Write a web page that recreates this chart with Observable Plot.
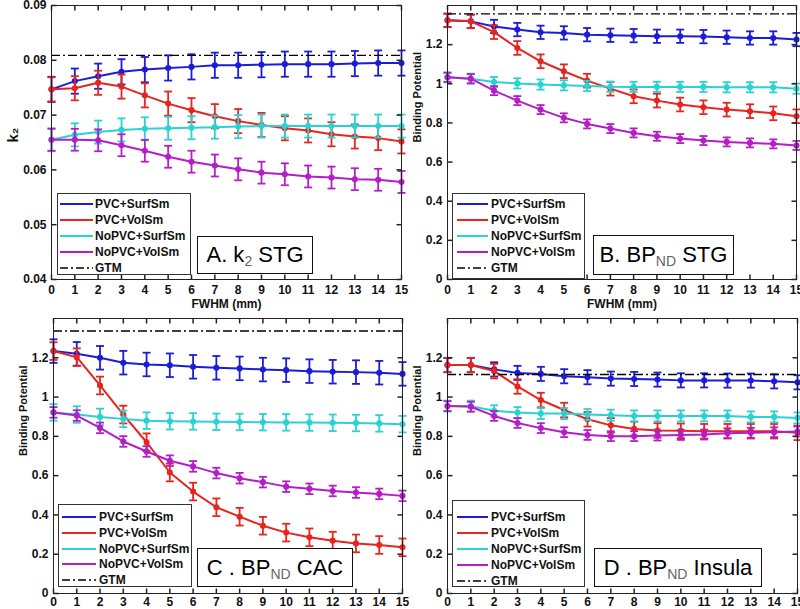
<!DOCTYPE html>
<html><head><meta charset="utf-8">
<script src="https://cdn.jsdelivr.net/npm/d3@7"></script>
<script src="https://cdn.jsdelivr.net/npm/@observablehq/plot@0.6"></script>
<style>
body{margin:0;background:#fff;}
#wrap{position:relative;width:800px;height:609px;overflow:hidden;font-family:Arial,"Liberation Sans",sans-serif;background:#fff;}
.panel{position:absolute;}
.legend{position:absolute;border:1px solid #333;background:#fff;box-sizing:border-box;font-weight:bold;font-size:12px;color:#111;}
.legend .row{position:absolute;left:0;height:16px;display:flex;align-items:center;white-space:nowrap;}
.legend svg{display:block;}
.label{position:absolute;border:1px solid #111;background:#fff;box-sizing:border-box;font-size:22px;display:flex;align-items:center;justify-content:center;white-space:nowrap;color:#000;}
.label .sub{font-size:14px;position:relative;top:6px;color:#666;}
</style></head><body><div id="wrap"></div>
<script>
// ---- data ----
const fwhm = [0,1,2,3,4,5,6,7,8,9,10,11,12,13,14,15];
const seriesNames = ["PVC+SurfSm","PVC+VolSm","NoPVC+SurfSm","NoPVC+VolSm"];
const seriesColors = ["#1c1cd8","#e8241e","#2ad2d2","#b41ec8"];

// A. k2 STG
const aPvcSurf = [0.0747,0.0762,0.0771,0.0779,0.0783,0.0786,0.0788,0.0791,0.0791,0.0792,0.0793,0.0793,0.0793,0.0794,0.0795,0.0795];
const aPvcVol  = [0.0747,0.0749,0.0759,0.0752,0.0736,0.0721,0.0709,0.0698,0.0689,0.0682,0.0676,0.0672,0.0665,0.0661,0.0658,0.0652];
const aNoSurf  = [0.0655,0.0664,0.0669,0.0673,0.0675,0.0676,0.0677,0.0678,0.0679,0.0680,0.0680,0.0680,0.0680,0.0680,0.0680,0.0680];
const aNoVol   = [0.0655,0.0655,0.0654,0.0645,0.0635,0.0624,0.0615,0.0608,0.0601,0.0595,0.0592,0.0588,0.0586,0.0583,0.0582,0.0578];
const aErr = [0.0023,0.0022,0.0021,0.0020];
const aGtm = 0.0809;
const aTicks = [0.04,0.05,0.06,0.07,0.08,0.09];

// B. BPND STG
const bPvcSurf = [1.324,1.319,1.293,1.277,1.263,1.260,1.251,1.248,1.246,1.243,1.243,1.241,1.238,1.234,1.234,1.226];
const bPvcVol  = [1.324,1.319,1.264,1.183,1.115,1.064,1.016,0.975,0.936,0.914,0.894,0.880,0.868,0.860,0.849,0.834];
const bNoSurf  = [1.033,1.026,1.009,1.002,0.996,0.992,0.989,0.985,0.984,0.984,0.984,0.984,0.982,0.982,0.982,0.975];
const bNoVol   = [1.033,1.026,0.965,0.914,0.868,0.826,0.795,0.771,0.749,0.732,0.720,0.710,0.703,0.698,0.693,0.685];
const bErr = [0.034,0.035,0.026,0.023];
const bGtm = 1.357;

// C. BPND CAC
const cPvcSurf = [1.234,1.220,1.200,1.175,1.166,1.162,1.154,1.149,1.146,1.140,1.137,1.132,1.129,1.127,1.124,1.118];
const cPvcVol  = [1.234,1.203,1.059,0.911,0.770,0.616,0.519,0.439,0.391,0.345,0.310,0.286,0.269,0.255,0.247,0.235];
const cNoSurf  = [0.922,0.911,0.899,0.889,0.880,0.877,0.876,0.874,0.873,0.872,0.871,0.870,0.869,0.868,0.866,0.862];
const cNoVol   = [0.922,0.906,0.843,0.774,0.723,0.676,0.647,0.613,0.587,0.567,0.544,0.533,0.522,0.514,0.507,0.497];
const cErr = [0.060,0.045,0.042,0.027];
const cGtm = 1.336;

// D. BPND Insula
const dPvcSurf = [1.163,1.163,1.141,1.123,1.118,1.106,1.101,1.094,1.092,1.089,1.085,1.085,1.084,1.084,1.080,1.075];
const dPvcVol  = [1.163,1.163,1.132,1.054,0.985,0.934,0.887,0.856,0.838,0.830,0.828,0.826,0.826,0.826,0.826,0.818];
const dNoSurf  = [0.954,0.954,0.930,0.921,0.916,0.916,0.911,0.908,0.904,0.904,0.904,0.904,0.904,0.899,0.899,0.894];
const dNoVol   = [0.954,0.951,0.904,0.868,0.842,0.821,0.807,0.801,0.801,0.804,0.807,0.809,0.816,0.818,0.821,0.825];
const dErr = [0.036,0.037,0.028,0.025];
const dGtm = 1.115;

const bpTicks = [0,0.2,0.4,0.6,0.8,1,1.2];

// ---- drawing ----
const wrap = document.getElementById("wrap");
const capSym = {draw(ctx){ctx.moveTo(-4,0);ctx.lineTo(4,0);}};
const tickUp = {draw(ctx){ctx.moveTo(0,0);ctx.lineTo(0,-5);}};
const tickDown = {draw(ctx){ctx.moveTo(0,0);ctx.lineTo(0,5);}};
const tickRight = {draw(ctx){ctx.moveTo(0,0);ctx.lineTo(5,0);}};
const tickLeft = {draw(ctx){ctx.moveTo(0,0);ctx.lineTo(-5,0);}};

function panel(cfg){
  const marks = [];
  cfg.series.forEach((vals, i) => {
    const d = vals.map((v, j) => ({x: fwhm[j], y: v, e: cfg.err[i]}));
    const c = seriesColors[i];
    marks.push(Plot.line(d, {x:"x", y:"y", stroke:c, strokeWidth:2}));
    marks.push(Plot.ruleX(d, {x:"x", y1:r=>r.y-r.e, y2:r=>r.y+r.e, stroke:c, strokeWidth:1.8}));
    marks.push(Plot.dot(d, {x:"x", y:r=>r.y-r.e, symbol:capSym, stroke:c, strokeWidth:1.8, fill:"none"}));
    marks.push(Plot.dot(d, {x:"x", y:r=>r.y+r.e, symbol:capSym, stroke:c, strokeWidth:1.8, fill:"none"}));
    marks.push(Plot.dot(d, {x:"x", y:"y", r:2.3, fill:c, stroke:c}));
  });
  marks.push(Plot.ruleY([cfg.gtm], {stroke:"#000", strokeWidth:1.4, strokeDasharray:"9,3,2,3"}));
  marks.push(Plot.frame({stroke:"#222"}));
  marks.push(Plot.dot(fwhm, {x:d=>d, frameAnchor:"bottom", symbol:tickUp, stroke:"#222", fill:"none"}));
  marks.push(Plot.dot(fwhm, {x:d=>d, frameAnchor:"top", symbol:tickDown, stroke:"#222", fill:"none"}));
  marks.push(Plot.dot(cfg.ticks, {y:d=>d, frameAnchor:"left", symbol:tickRight, stroke:"#222", fill:"none"}));
  marks.push(Plot.dot(cfg.ticks, {y:d=>d, frameAnchor:"right", symbol:tickLeft, stroke:"#222", fill:"none"}));
  marks.push(Plot.axisX(fwhm, {tickSize:0, tickPadding:cfg.xpad, tickFormat:d=>String(d), label:null}));
  marks.push(Plot.axisY(cfg.ticks, {tickSize:0, tickPadding:5, tickFormat:d3.format("~g"), label:null}));
  if (cfg.xlabel) marks.push(Plot.text([cfg.xlabel], {frameAnchor:"bottom", dy:28, text:d=>d, fontWeight:"bold", fontSize:12}));
  marks.push(Plot.text([cfg.ylabel], {frameAnchor:"left", dx:-cfg.ylabelOffset, rotate:-90, text:d=>d, fontWeight:"bold", fontSize:cfg.ylabelSize}));
  const svg = Plot.plot({
    width: cfg.width, height: cfg.height,
    marginLeft: cfg.ml, marginRight: cfg.mr, marginTop: cfg.mt, marginBottom: cfg.mb,
    x: {domain:[0,15]},
    y: {domain: cfg.domain},
    style: {fontFamily:"Arial, 'Liberation Sans', sans-serif", fontSize:"12px", fontWeight:"bold", background:"transparent", color:"#111"},
    marks
  });
  svg.classList.add("panel");
  svg.style.left = cfg.left + "px";
  svg.style.top = cfg.top + "px";
  svg.style.position = "absolute";
  wrap.appendChild(svg);
}

panel({left:0, top:0, width:412, height:312, ml:51, mr:11, mt:5, mb:33, xpad:6, xlabel:"FWHM (mm)",
  domain:[0.04,0.09], ticks:aTicks, series:[aPvcSurf,aPvcVol,aNoSurf,aNoVol], err:aErr, gtm:aGtm,
  ylabel:"k₂", ylabelOffset:38, ylabelSize:15});
panel({left:400, top:0, width:400, height:312, ml:47, mr:4, mt:5, mb:33, xpad:6, xlabel:"FWHM (mm)",
  domain:[0,1.4], ticks:bpTicks, series:[bPvcSurf,bPvcVol,bNoSurf,bNoVol], err:bErr, gtm:bGtm,
  ylabel:"Binding Potential", ylabelOffset:30, ylabelSize:11});
panel({left:0, top:300, width:412, height:309, ml:53, mr:10, mt:18, mb:16, xpad:4, xlabel:null,
  domain:[0,1.4], ticks:bpTicks, series:[cPvcSurf,cPvcVol,cNoSurf,cNoVol], err:cErr, gtm:cGtm,
  ylabel:"Binding Potential", ylabelOffset:30, ylabelSize:11});
panel({left:400, top:300, width:400, height:309, ml:47, mr:3, mt:18, mb:16, xpad:4, xlabel:null,
  domain:[0,1.4], ticks:bpTicks, series:[dPvcSurf,dPvcVol,dNoSurf,dNoVol], err:dErr, gtm:dGtm,
  ylabel:"Binding Potential", ylabelOffset:30, ylabelSize:11});

// legends
function legend(L){
  const box = document.createElement("div");
  box.className = "legend";
  Object.assign(box.style, {left:L.left+"px", top:L.top+"px", width:L.w+"px", height:L.h+"px"});
  const items = seriesNames.map((n,i)=>({name:n, color:seriesColors[i], dash:null})).concat([{name:"GTM", color:"#000", dash:"8,3,2,3"}]);
  items.forEach((it, i) => {
    const row = document.createElement("div");
    row.className = "row";
    row.style.top = (L.first + i*L.step - 8) + "px";
    row.style.left = L.lineX + "px";
    const len = L.lineLen;
    row.innerHTML = `<svg width="${len}" height="16"><line x1="0" x2="${len}" y1="8" y2="8" stroke="${it.color}" stroke-width="${it.dash?1.4:2}" ${it.dash?`stroke-dasharray="${it.dash}"`:""}/></svg><span style="margin-left:${L.gap}px">${it.name}</span>`;
    box.appendChild(row);
  });
  wrap.appendChild(box);
}
legend({left:57, top:193, w:134, h:82, first:10, step:16, lineX:2, lineLen:33, gap:2});
legend({left:452, top:193, w:133, h:86, first:10, step:16, lineX:4, lineLen:31, gap:3});
legend({left:58, top:504, w:134, h:83, first:12, step:15.8, lineX:3, lineLen:34, gap:3});
legend({left:452, top:500, w:133, h:87, first:16, step:16, lineX:4, lineLen:31, gap:3});

// panel labels
function label(L){
  const box = document.createElement("div");
  box.className = "label";
  Object.assign(box.style, {left:L.left+"px", top:L.top+"px", width:L.w+"px", height:L.h+"px"});
  box.innerHTML = `<span>${L.pre}</span><span class="sub">${L.sub}</span><span>${L.post}</span>`;
  wrap.appendChild(box);
}
label({left:197, top:236, w:116, h:38, pre:"A. k", sub:"2", post:"&nbsp;STG"});
label({left:593, top:235, w:141, h:40, pre:"B. BP", sub:"ND", post:"&nbsp;STG"});
label({left:197, top:548, w:156, h:39, pre:"C . BP", sub:"ND", post:"&nbsp;CAC"});
label({left:594, top:548, w:168, h:39, pre:"D . BP", sub:"ND", post:"&nbsp;Insula"});
</script></body></html>
